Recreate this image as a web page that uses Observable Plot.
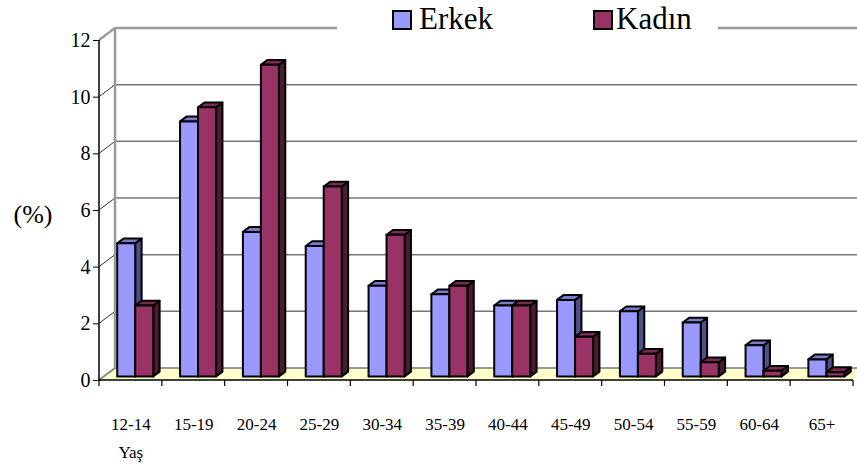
<!DOCTYPE html>
<html><head><meta charset="utf-8">
<script src="https://cdn.jsdelivr.net/npm/d3@7"></script>
<script src="https://cdn.jsdelivr.net/npm/@observablehq/plot@0.6"></script>
<style>
body{margin:0;background:#fff;}
#wrap{position:relative;width:857px;height:473px;overflow:hidden;font-family:"Liberation Serif","Times New Roman",serif;}
#legend{position:absolute;left:337px;top:0;width:381px;height:36px;background:#fff;}
.sw{position:absolute;top:10px;width:16px;height:16px;border:2px solid #000;}
.lt{position:absolute;top:1px;font-family:"Liberation Serif","Times New Roman",serif;font-size:31px;line-height:36px;color:#000;white-space:nowrap;}
</style></head>
<body><div id="wrap"><div id="chart"></div><div id="legend"></div></div>
<script>
const ages = ["12-14","15-19","20-24","25-29","30-34","35-39","40-44","45-49","50-54","55-59","60-64","65+"];
const erkek = [4.7, 9.0, 5.1, 4.6, 3.2, 2.9, 2.5, 2.7, 2.3, 1.9, 1.1, 0.6];
const kadin = [2.5, 9.5, 11.0, 6.7, 5.0, 3.2, 2.5, 1.4, 0.8, 0.5, 0.2, 0.15];
const yTicks = [0, 2, 4, 6, 8, 10, 12];
const seriesNames = ["Erkek", "Kadın"];
const frontColors = ["#9999FF", "#993366"];
const topColors = ["#7A7ACC", "#7A2952"];
const sideColors = ["#4F4F8C", "#4C1A33"];

const W = 857, H = 473, ML = 99, MR = 4, MT = 40, MB = 93;
const BW = 18;            // bar width (px)
const FX = 4.8, FY = 3.6; // bar front plane offset
const BDX = 6.4, BDY = 4.8; // bar depth
const WDX = 16, WDY = 12; // wall depth
const band = (W - ML - MR) / ages.length;

const rows = ages.flatMap((age, i) => [
  {age, sex: seriesNames[0], value: erkek[i]},
  {age, sex: seriesNames[1], value: kadin[i]}
]);

function walls(index, scales, values, dim) {
  const X = scales.x, Y = scales.y;
  const xl = dim.marginLeft, xr = dim.width - dim.marginRight;
  const y0 = Y(0), yTop = Y(yTicks[yTicks.length - 1]);
  const g = d3.create("svg:g");
  g.append("path")
    .attr("d", `M${xl},${y0}L${xr},${y0}L${xr + WDX},${y0 - WDY}L${xl + WDX},${y0 - WDY}Z`)
    .attr("fill", "#FFFFCC");
  for (const t of yTicks) {
    const y = Y(t);
    const isTop = t === yTicks[yTicks.length - 1];
    g.append("line").attr("x1", xl + WDX).attr("x2", xr + WDX + 40)
      .attr("y1", y - WDY).attr("y2", y - WDY)
      .attr("stroke", isTop ? "#9a9a9a" : "#777").attr("stroke-width", isTop ? 2.5 : 1.5);
    g.append("line").attr("x1", xl).attr("y1", y).attr("x2", xl + WDX).attr("y2", y - WDY)
      .attr("stroke", isTop ? "#9a9a9a" : (t === 0 ? "#888" : "#333"))
      .attr("stroke-width", isTop ? 2.5 : (t === 0 ? 2 : 1));
  }
  g.append("line").attr("x1", xl + WDX).attr("x2", xl + WDX)
    .attr("y1", yTop - WDY).attr("y2", y0 - WDY)
    .attr("stroke", "#9a9a9a").attr("stroke-width", 2.5);
  g.append("line").attr("x1", xl).attr("x2", xl).attr("y1", yTop).attr("y2", y0 + 1)
    .attr("stroke", "#000").attr("stroke-width", 1.5);
  g.append("line").attr("x1", xl).attr("x2", xr).attr("y1", y0).attr("y2", y0)
    .attr("stroke", "#000").attr("stroke-width", 1.5);
  const bounds = ages.map(a => X(a)).concat([xr]);
  for (const x of bounds) {
    g.append("line").attr("x1", x).attr("x2", x).attr("y1", y0).attr("y2", y0 + 6)
      .attr("stroke", "#000").attr("stroke-width", 1.2);
  }
  return g.node();
}

function barSides(index, scales) {
  const X = scales.x, Y = scales.y;
  const bw = X.bandwidth ? X.bandwidth() : band;
  const g = d3.create("svg:g").attr("stroke", "#000").attr("stroke-width", 2).attr("stroke-linejoin", "round");
  ages.forEach((age, i) => {
    [[0, erkek[i], bw / 2 - BW], [1, kadin[i], bw / 2]].forEach(([s, v, off]) => {
      const x0 = X(age) + off + FX, x1 = x0 + BW;
      const yt = Y(v) - FY, yb = Y(0) - FY;
      g.append("path")
        .attr("d", `M${x1},${yt}L${x1 + BDX},${yt - BDY}L${x1 + BDX},${yb - BDY}L${x1},${yb}Z`)
        .attr("fill", sideColors[s]);
      g.append("path")
        .attr("d", `M${x0},${yt}L${x1},${yt}L${x1 + BDX},${yt - BDY}L${x0 + BDX},${yt - BDY}Z`)
        .attr("fill", topColors[s]);
    });
  });
  return g.node();
}

const chart = Plot.plot({
  width: W, height: H,
  marginLeft: ML, marginRight: MR, marginTop: MT, marginBottom: MB,
  style: {fontFamily: "Liberation Serif, Times New Roman, serif", background: "#fff", color: "#000", overflow: "visible"},
  x: {domain: ages, padding: 0, round: false, label: null},
  y: {domain: [0, 12], label: null},
  marks: [
    walls,
    Plot.axisY({ticks: yTicks, tickSize: 6, tickPadding: 3, fontSize: 20, label: null, tickFormat: d => d}),
    Plot.axisX({tickSize: 0, tickPadding: 37, fontSize: 17, label: null}),
    barSides,
    Plot.barY(rows.filter(d => d.sex === seriesNames[0]), {
      x: "age", y: "value", fill: frontColors[0], stroke: "#000", strokeWidth: 2, strokeLinejoin: "round",
      insetLeft: band / 2 - BW, insetRight: band / 2, dx: FX, dy: -FY
    }),
    Plot.barY(rows.filter(d => d.sex === seriesNames[1]), {
      x: "age", y: "value", fill: frontColors[1], stroke: "#000", strokeWidth: 2, strokeLinejoin: "round",
      insetLeft: band / 2, insetRight: band / 2 - BW, dx: FX, dy: -FY
    }),
    Plot.text(["(%)"], {text: d => d, frameAnchor: "left", textAnchor: "start", lineAnchor: "middle", dx: -86, dy: 4, fontSize: 26}),
    Plot.text(["Yaş"], {text: d => d, frameAnchor: "bottom-left", textAnchor: "start", lineAnchor: "middle", dx: 19, dy: 72, fontSize: 17})
  ]
});
document.getElementById("chart").appendChild(chart);

const legend = document.getElementById("legend");
const swLeft = [54.7, 255.7], txtLeft = [82, 279];
seriesNames.forEach((name, i) => {
  const sw = document.createElement("div");
  sw.className = "sw"; sw.style.left = swLeft[i] + "px"; sw.style.background = frontColors[i];
  legend.appendChild(sw);
  const t = document.createElement("div");
  t.className = "lt"; t.style.left = txtLeft[i] + "px"; t.textContent = name;
  legend.appendChild(t);
});
</script>
</body></html>
